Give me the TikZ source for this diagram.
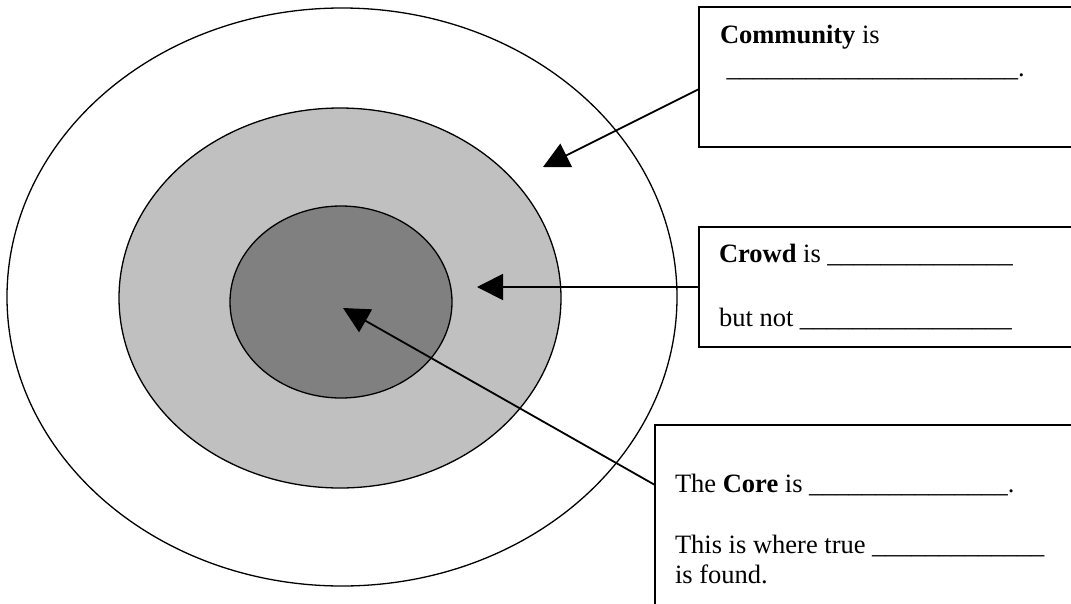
\documentclass[tikz,border=0pt]{standalone}
\usepackage{fontspec}
\setmainfont{Liberation Serif}
\usetikzlibrary{arrows.meta,shapes.geometric}
\definecolor{lightgrayfill}{RGB}{192,192,192}
\definecolor{darkgrayfill}{RGB}{128,128,128}
\tikzset{
  ring/.style={draw=black, line width=1.3pt, ellipse, inner sep=0pt, outer sep=0pt},
  labelbox/.style={draw=black, line width=2pt, rectangle, inner sep=0pt, outer sep=0pt, anchor=north west, fill=white},
  txt/.style={inner sep=0pt, outer sep=0pt, anchor=base west, font=\fontsize{26.5}{30}\selectfont},
  pointer/.style={draw=black, line width=1.8pt, -{Triangle[length=26pt,width=26pt]}}
}
\begin{document}
\begin{tikzpicture}[x=1pt,y=-1pt]
\useasboundingbox (0,0) rectangle (1071,603);
\clip (0,0) rectangle (1071,603);
% rings
\node[ring, fill=white, minimum width=670pt, minimum height=578pt] (outer) at (342,297) {};
\node[ring, fill=lightgrayfill, minimum width=442pt, minimum height=380pt] (middle) at (340,298) {};
\node[ring, fill=darkgrayfill, minimum width=222pt, minimum height=192pt] (inner) at (341,302) {};
% boxes
\node[labelbox, minimum width=400pt, minimum height=140pt] (combox) at (699,7) {};
\node[labelbox, minimum width=400pt, minimum height=120pt] (crowdbox) at (699,227) {};
\node[labelbox, minimum width=440pt, minimum height=200pt] (corebox) at (655,425) {};
% texts
\node[txt] (comA) at (720,43) {\textbf{Community} is};
\node[txt] (comB) at (720,76) {\hspace{0.25em}\_\_\_\_\_\_\_\_\_\_\_\_\_\_\_\_\_\_\_\_\_\_.};
\node[txt] (crowdA) at (719,262) {\textbf{Crowd} is \_\_\_\_\_\_\_\_\_\_\_\_\_\_};
\node[txt] (crowdB) at (719,326) {but not \_\_\_\_\_\_\_\_\_\_\_\_\_\_\_\_};
\node[txt] (coreA) at (675,492.5) {The \textbf{Core} is \_\_\_\_\_\_\_\_\_\_\_\_\_\_\_.};
\node[txt] (coreB) at (675,553.5) {This is where true \_\_\_\_\_\_\_\_\_\_\_\_\_};
\node[txt] (coreC) at (675,583.5) {is found.};
% connector ends
\coordinate (comstart) at (699,89);
\coordinate (comtip) at (543,167);
\coordinate (crowdstart) at (699,287);
\coordinate (crowdtip) at (477,287);
\coordinate (corestart) at (655,485);
\coordinate (coretip) at (343,308);
% arrows
\draw[pointer] (comstart) -- (comtip);
\draw[pointer] (crowdstart) -- (crowdtip);
\draw[pointer] (corestart) -- (coretip);
\end{tikzpicture}
\end{document}
